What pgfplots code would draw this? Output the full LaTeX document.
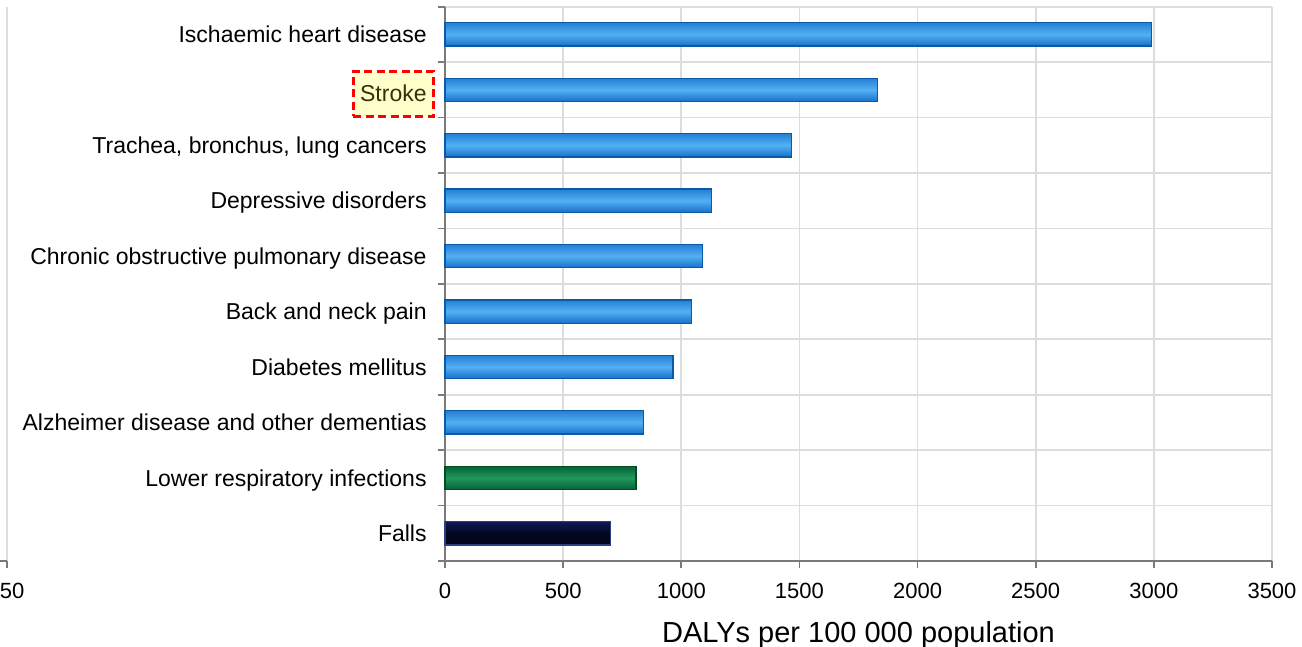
\documentclass[border=0pt]{standalone}
\usepackage{fontspec}
\setmainfont{Liberation Sans}
\usepackage{pgfplots}
\pgfplotsset{compat=1.18}

\definecolor{gridgray}{HTML}{DDDDDD}
\definecolor{axisgray}{HTML}{7A7A7A}
\definecolor{blueA}{HTML}{1870C8}
\definecolor{blueB}{HTML}{52B0F4}
\definecolor{blueEdge}{HTML}{0A5AA8}
\definecolor{greenA}{HTML}{06623A}
\definecolor{greenB}{HTML}{22985C}
\definecolor{greenEdge}{HTML}{004D22}
\definecolor{navyA}{HTML}{03061F}
\definecolor{navyB}{HTML}{0E1A58}
\definecolor{navyEdge}{HTML}{2A4080}
\definecolor{notefill}{HTML}{FFFFCC}
\definecolor{notetext}{HTML}{33330A}

\pgfplotsset{
  panel/.style={
    scale only axis,
    height=277.15pt,
    ymin=-0.5, ymax=9.5, y dir=reverse,
    axis x line*=bottom, axis y line*=left,
    axis line style={-},
    x axis line style={axisgray, line width=1pt},
    y axis line style={axisgray, line width=1pt},
    major tick length=0pt, minor tick length=3.5pt,
    tick align=outside,
    minor tick style={axisgray, line width=0.8pt},
    major tick style={draw=none},
    grid style={gridgray, line width=0.9pt},
    minor grid style={gridgray, line width=0.9pt},
    minor ytick={-0.5,0.5,...,9.5},
    yminorgrids, xmajorgrids,
    /pgf/number format/assume math mode=true,
    /pgf/number format/1000 sep={},
    xticklabel style={font=\fontsize{11}{13}\selectfont, anchor=north, inner sep=0pt, yshift=-11pt},
  },
  bluebar/.style={draw=blueEdge, line width=0.7pt,
    top color=blueA!75!blueB, bottom color=blueA, middle color=blueB},
  greenbar/.style={draw=greenEdge, line width=0.7pt,
    top color=greenA, bottom color=greenA, middle color=greenB},
  navybar/.style={draw=navyEdge, line width=0.7pt,
    top color=navyB, bottom color=navyA, middle color=navyA},
}

\begin{document}
\begin{tikzpicture}
\useasboundingbox (0,0) rectangle (651pt,323.5pt);
\clip (0,0) rectangle (651pt,323.5pt);

% edge of the neighbouring panel
\begin{axis}[panel,
  at={(3.5pt,43pt)}, anchor=south east,
  width=100pt, xmin=0, xmax=250,
  y axis line style={draw=none},
  xtick={250}, minor xtick={250}, xticklabels={50},
  xticklabel style={xshift=2.6pt},
  ytick=\empty,
]
\addplot[draw=none] coordinates {(0,0)};
\end{axis}

% DALYs by cause (one plot per bar so each bar gets its own shading)
\begin{axis}[panel,
  at={(222.5pt,43pt)}, anchor=south west,
  width=413.5pt,
  xmin=0, xmax=3500,
  xtick={0,500,...,3500}, minor xtick={0,500,...,3500},
  ytick={0,...,9},
  yticklabels={Ischaemic heart disease, {}, {Trachea, bronchus, lung cancers},
    Depressive disorders, Chronic obstructive pulmonary disease,
    Back and neck pain, Diabetes mellitus,
    Alzheimer disease and other dementias,
    Lower respiratory infections, Falls},
  yticklabel style={font=\fontsize{11.5}{13}\selectfont, anchor=base east,
    inner sep=0pt, xshift=-9pt, yshift=-4.1pt},
  xlabel={DALYs per 100 000 population},
  xlabel style={font=\fontsize{14.5}{16}\selectfont, at={(axis description cs:0.5,0)},
    anchor=base, inner sep=0pt, yshift=-40.6pt},
  xbar, bar width=0.42, bar shift=0pt,
  clip=false,
]
\addplot[bluebar] coordinates {(2990,0)};
\addplot[bluebar] coordinates {(1830,1)};
\addplot[bluebar] coordinates {(1466,2)};
\addplot[bluebar] coordinates {(1129,3)};
\addplot[bluebar] coordinates {(1089,4)};
\addplot[bluebar] coordinates {(1044,5)};
\addplot[bluebar] coordinates {(965,6)};
\addplot[bluebar] coordinates {(839,7)};
\addplot[greenbar] coordinates {(808,8)};
\addplot[navybar] coordinates {(700,9)};

% highlighted category label
\node[draw=red, dashed, dash pattern=on 4pt off 2.2pt, line width=1.5pt,
  fill=notefill, minimum width=40pt, minimum height=22.5pt, inner sep=0pt,
  anchor=east] at (axis cs:0,1.07) [xshift=-5pt] {};
\node[font=\fontsize{11.5}{13}\selectfont, text=notetext, anchor=base east,
  inner sep=0pt] at (axis cs:0,1.07) [xshift=-9pt, yshift=-4.1pt] {Stroke};
\end{axis}
\end{tikzpicture}
\end{document}
